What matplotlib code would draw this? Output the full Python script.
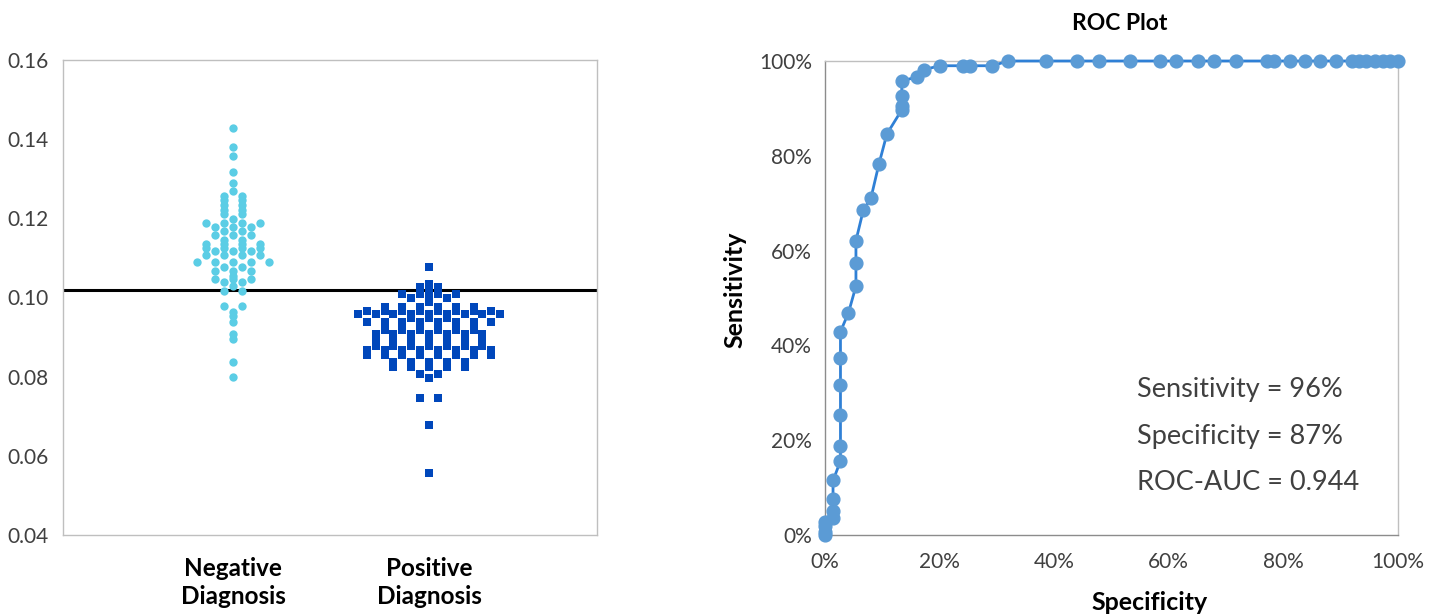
import numpy as np
import matplotlib
matplotlib.use('Agg')
import matplotlib.pyplot as plt

# ---------------- data ----------------
categories = ['Negative\nDiagnosis', 'Positive\nDiagnosis']

neg_values = ([0.1427, 0.1379, 0.1358, 0.1318, 0.1288, 0.1269]
              + [0.1257] * 2 + [0.1246] * 2 + [0.1234] * 2 + [0.1222] * 2 + [0.1210] * 2
              + [0.1198] + [0.1187] * 4 + [0.1179] * 3 + [0.1168] * 2 + [0.1158] * 3
              + [0.1145] * 2 + [0.1135] * 4 + [0.1126] * 4 + [0.1118] * 3 + [0.1107] * 4
              + [0.1089] * 5 + [0.1078] * 2 + [0.1068] * 3 + [0.1055] + [0.1047] * 3
              + [0.1038] * 2 + [0.1029] + [0.1017] * 2 + [0.0979] * 2
              + [0.0964, 0.0952, 0.0939, 0.0908, 0.0896, 0.0838, 0.0798])

pos_values = ([0.1078, 0.1034] + [0.1027] * 2 + [0.1017] + [0.1009] * 4 + [0.0999] * 3
              + [0.0989] + [0.0977] * 6 + [0.0967] * 8 + [0.0958] * 9 + [0.0947] * 3
              + [0.0938] * 8 + [0.0918] * 6 + [0.0908] * 7 + [0.0893] * 7 + [0.0878] * 7
              + [0.0867] * 8 + [0.0854] * 8 + [0.0837] * 5 + [0.0824] * 5 + [0.0807] * 2
              + [0.0797] + [0.0747] * 2 + [0.0679, 0.0557])

threshold = 0.1019
left_yticks = [0.04, 0.06, 0.08, 0.10, 0.12, 0.14, 0.16]

roc_spec = [0, 0, 0, 0, 1.4, 1.4, 1.4, 1.4, 2.7, 2.7, 2.7, 2.7, 2.7, 2.7, 4.1, 5.4, 5.4, 5.4,
            6.7, 8.0, 9.4, 10.8, 13.4, 13.4, 13.4, 13.4, 16.0, 17.3, 20.1, 24.0, 25.3, 29.2,
            32.0, 38.6, 43.9, 47.8, 53.2, 58.5, 61.2, 65.1, 67.9, 71.8, 77.1, 78.4, 81.2,
            83.8, 86.4, 89.1, 91.9, 93.2, 94.5, 95.9, 97.3, 98.6, 100]
roc_sens = [0, 0.7, 1.8, 2.8, 3.5, 5.1, 7.6, 11.5, 15.6, 18.8, 25.3, 31.6, 37.3, 42.9, 46.9,
            52.5, 57.3, 62.1, 68.6, 71.0, 78.2, 84.6, 89.7, 90.6, 92.7, 95.8, 96.6, 98.2,
            99.0, 99.0, 99.0, 99.0, 100, 100, 100, 100, 100, 100, 100, 100, 100, 100, 100,
            100, 100, 100, 100, 100, 100, 100, 100, 100, 100, 100, 100]
pct_ticks = [0, 20, 40, 60, 80, 100]
stats_lines = ['Sensitivity = 96%', 'Specificity = 87%', 'ROC-AUC = 0.944']

# ---------------- style ----------------
FONT = ['Lato', 'DejaVu Sans']
plt.rcParams['font.family'] = FONT

W, H = 1446, 615
fig = plt.figure(figsize=(W / 100, H / 100), dpi=100)


def fx(px):
    return px / W


def fy(py):
    return 1 - py / H


def row_offsets(values, step):
    vals = np.round(np.asarray(values, dtype=float), 6)
    xs = np.zeros(len(vals))
    for v in np.unique(vals):
        idx = np.where(vals == v)[0]
        n = len(idx)
        xs[idx] = (np.arange(n) - (n - 1) / 2) * 2 * step
    return xs


TICK_COLOR = '#404040'
TICK_SIZE = 15

# ---------------- left panel ----------------
ax1 = fig.add_axes([fx(63), fy(535), fx(597) - fx(63), fy(60) - fy(535)])
col_step = 8.9 / 196.0
neg_x = 1 + row_offsets(neg_values, col_step)
pos_x = 2 + row_offsets(pos_values, col_step)
ax1.axhline(threshold, color='black', lw=2.2, zorder=2)
ax1.scatter(neg_x, neg_values, s=36, marker='o', color='#5BCDE5', linewidths=0, zorder=3)
ax1.scatter(pos_x, pos_values, s=34, marker='s', color='#0047BB', linewidths=0, zorder=3)
ax1.set_xlim(1 - 170 / 196, 1 + 364 / 196)
ax1.set_ylim(0.04, 0.16)
ax1.set_yticks(left_yticks)
ax1.set_yticklabels(['%.2f' % t for t in left_yticks], fontsize=TICK_SIZE, color=TICK_COLOR)
ax1.set_xticks([1, 2])
ax1.set_xticklabels(categories, fontsize=17.5, fontweight='bold', color='black',
                    linespacing=1.3)
ax1.tick_params(axis='both', length=0)
ax1.tick_params(axis='y', pad=10.5)
ax1.tick_params(axis='x', pad=15.5)
for s in ax1.spines.values():
    s.set_color('#BFBFBF')
    s.set_linewidth(1.0)

# ---------------- right panel ----------------
ax2 = fig.add_axes([fx(825), fy(535), fx(1398) - fx(825), fy(61) - fy(535)])
ax2.plot(roc_spec, roc_sens, color='#2F80D6', lw=2.0, zorder=3, clip_on=False)
ax2.plot(roc_spec, roc_sens, linestyle='none', marker='o', ms=9.2, mfc='#5B9BD5',
         mec='#5B9BD5', zorder=4, clip_on=False)
ax2.set_xlim(0, 100)
ax2.set_ylim(0, 100)
ax2.set_xticks(pct_ticks)
ax2.set_yticks(pct_ticks)
ax2.set_xticklabels(['%d%%' % t for t in pct_ticks], fontsize=TICK_SIZE, color=TICK_COLOR)
ax2.set_yticklabels(['%d%%' % t for t in pct_ticks], fontsize=TICK_SIZE, color=TICK_COLOR)
ax2.tick_params(axis='both', length=0)
ax2.tick_params(axis='y', pad=9.5)
ax2.tick_params(axis='x', pad=12)
ax2.spines['left'].set_color('#8C8C8C')
ax2.spines['bottom'].set_color('#8C8C8C')
ax2.spines['top'].set_color('#BFBFBF')
ax2.spines['right'].set_color('#BFBFBF')
for s in ax2.spines.values():
    s.set_linewidth(1.0)

fig.text(fx(1120), fy(23), 'ROC Plot', ha='center', va='center', fontsize=16.5,
         fontweight='bold', color='black')
fig.text(fx(1150), fy(602), 'Specificity', ha='center', va='center', fontsize=18,
         fontweight='bold', color='black')
fig.text(fx(735), fy(290), 'Sensitivity', ha='center', va='center', rotation=90,
         fontsize=18, fontweight='bold', color='black')

for i, line in enumerate(stats_lines):
    fig.text(fx(1137), fy(390 + 46.5 * i), line, ha='left', va='center', fontsize=19.5,
             color=TICK_COLOR)

fig.savefig('out.png', dpi=100)
